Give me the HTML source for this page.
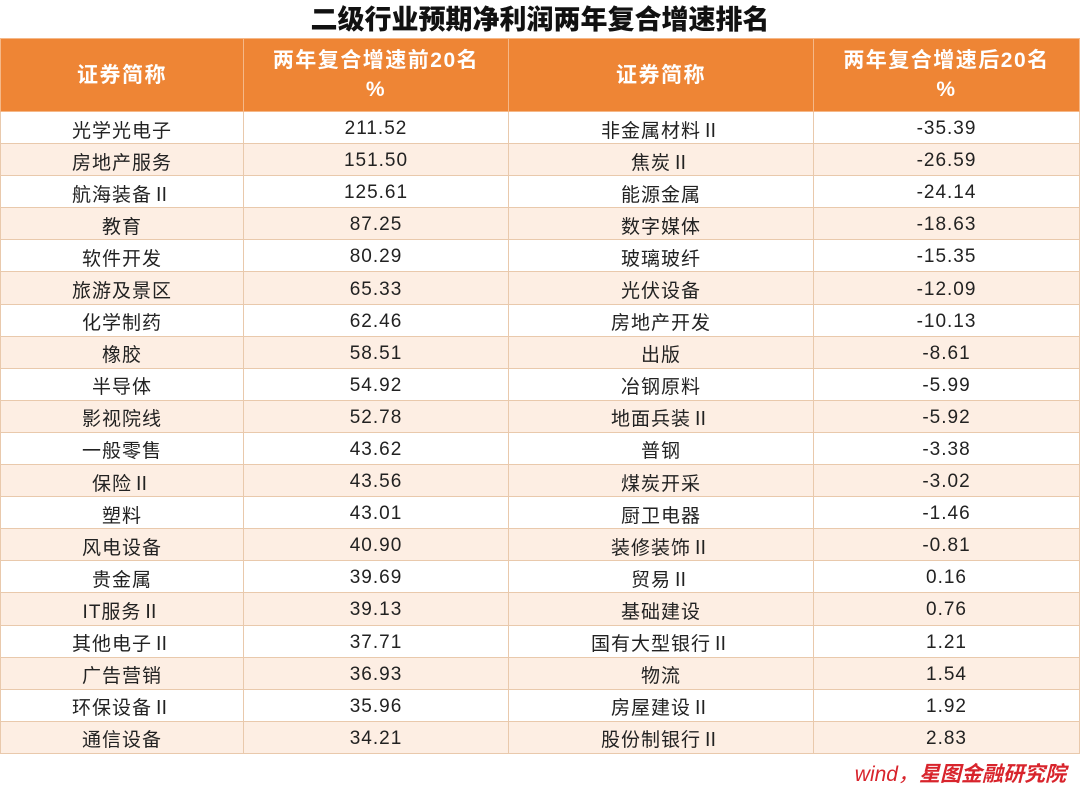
<!DOCTYPE html>
<html><head><meta charset="utf-8"><style>
body{margin:0;width:1080px;height:792px;background:#fff;font-family:"Liberation Sans","Noto Sans CJK SC",sans-serif;position:relative;overflow:hidden}
.title{position:absolute;top:3px;left:0;width:1080px;text-align:center;font-size:27px;font-weight:900;color:#111;line-height:34px}
table{position:absolute;top:38px;left:0;width:1079px;border-collapse:collapse;table-layout:fixed}
th{background:#ee8535;color:#fff;font-size:21px;font-weight:bold;height:72px;border:1px solid #f5b888;line-height:29px;padding:0;letter-spacing:1.5px}
td{height:32.1px;padding:3px 0 0 0;box-sizing:border-box;text-align:center;font-size:19px;color:#222;border:1px solid #e9c9ac;letter-spacing:1px}
tr:nth-child(odd) td{background:#fdeee3}
table{border:1px solid #e2b892}
.src{position:absolute;right:14px;top:758px;font-size:21px;font-style:italic;color:#d8242c;font-weight:bold}
.src span{font-weight:normal}
</style></head><body>
<div class="title">二级行业预期净利润两年复合增速排名</div>
<table>
<colgroup><col style="width:243px"><col style="width:265px"><col style="width:305px"><col style="width:266px"></colgroup>
<tr><th>证券简称</th><th>两年复合增速前20名<br>%</th><th>证券简称</th><th>两年复合增速后20名<br>%</th></tr>
<tr><td>光学光电子</td><td>211.52</td><td>非金属材料Ⅱ</td><td>-35.39</td></tr>
<tr><td>房地产服务</td><td>151.50</td><td>焦炭Ⅱ</td><td>-26.59</td></tr>
<tr><td>航海装备Ⅱ</td><td>125.61</td><td>能源金属</td><td>-24.14</td></tr>
<tr><td>教育</td><td>87.25</td><td>数字媒体</td><td>-18.63</td></tr>
<tr><td>软件开发</td><td>80.29</td><td>玻璃玻纤</td><td>-15.35</td></tr>
<tr><td>旅游及景区</td><td>65.33</td><td>光伏设备</td><td>-12.09</td></tr>
<tr><td>化学制药</td><td>62.46</td><td>房地产开发</td><td>-10.13</td></tr>
<tr><td>橡胶</td><td>58.51</td><td>出版</td><td>-8.61</td></tr>
<tr><td>半导体</td><td>54.92</td><td>冶钢原料</td><td>-5.99</td></tr>
<tr><td>影视院线</td><td>52.78</td><td>地面兵装Ⅱ</td><td>-5.92</td></tr>
<tr><td>一般零售</td><td>43.62</td><td>普钢</td><td>-3.38</td></tr>
<tr><td>保险Ⅱ</td><td>43.56</td><td>煤炭开采</td><td>-3.02</td></tr>
<tr><td>塑料</td><td>43.01</td><td>厨卫电器</td><td>-1.46</td></tr>
<tr><td>风电设备</td><td>40.90</td><td>装修装饰Ⅱ</td><td>-0.81</td></tr>
<tr><td>贵金属</td><td>39.69</td><td>贸易Ⅱ</td><td>0.16</td></tr>
<tr><td>IT服务Ⅱ</td><td>39.13</td><td>基础建设</td><td>0.76</td></tr>
<tr><td>其他电子Ⅱ</td><td>37.71</td><td>国有大型银行Ⅱ</td><td>1.21</td></tr>
<tr><td>广告营销</td><td>36.93</td><td>物流</td><td>1.54</td></tr>
<tr><td>环保设备Ⅱ</td><td>35.96</td><td>房屋建设Ⅱ</td><td>1.92</td></tr>
<tr><td>通信设备</td><td>34.21</td><td>股份制银行Ⅱ</td><td>2.83</td></tr>
</table>
<div class="src"><span>wind，</span>星图金融研究院</div>
</body></html>
